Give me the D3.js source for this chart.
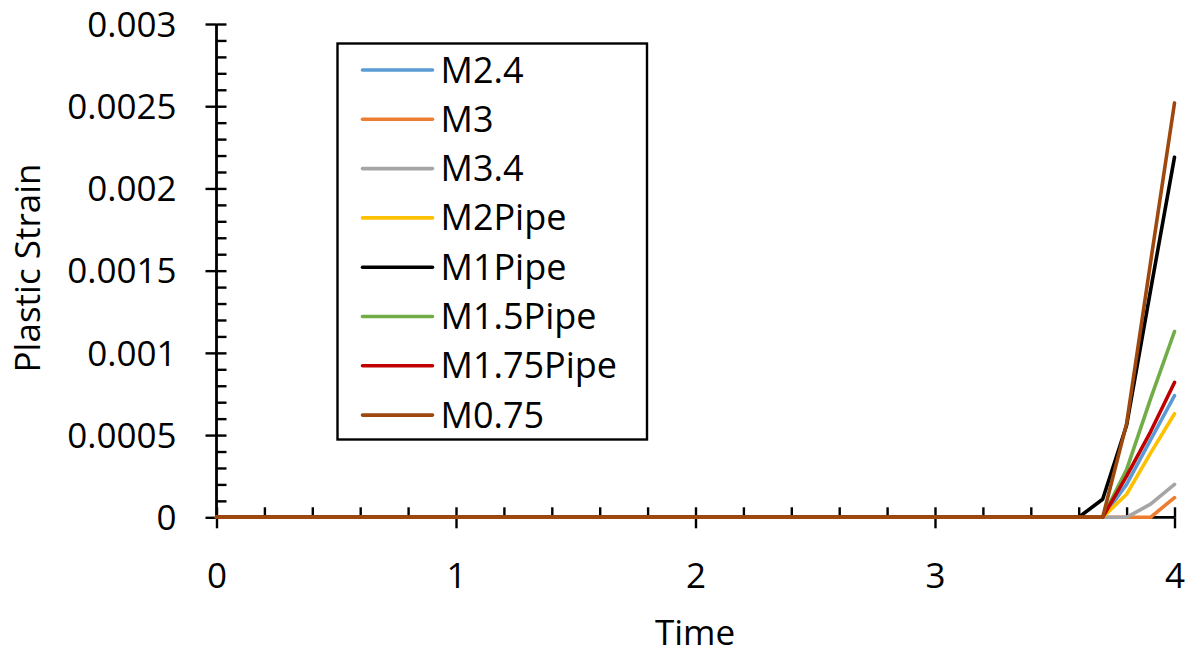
<!DOCTYPE html>
<html>
<head>
<meta charset="utf-8">
<script src="https://cdn.jsdelivr.net/npm/d3@7/dist/d3.min.js"></script>
<style>
  html, body { margin: 0; padding: 0; background: #fff; }
  svg { display: block; font-family: "Open Sans", "Liberation Sans", sans-serif; }
</style>
</head>
<body>
<svg id="chart" width="1191" height="655"></svg>
<script>
// Sample times (strain is zero from t = 0 up to the onset of yielding)
const times = [0, 3.6, 3.7, 3.8, 3.9, 4.0];

// Plastic strain per model at each sample time
const seriesNames = ["M2.4", "M3", "M3.4", "M2Pipe", "M1Pipe", "M1.5Pipe", "M1.75Pipe", "M0.75"];
const m2_4      = [0, 0, 0,       0.00020, 0.00047, 0.00074];
const m3        = [0, 0, 0,       0,       0,       0.00012];
const m3_4      = [0, 0, 0,       0,       0.00008, 0.00020];
const m2Pipe    = [0, 0, 0,       0.00014, 0.00039, 0.00063];
const m1Pipe    = [0, 0, 0.00011, 0.00056, 0.00138, 0.00219];
const m1_5Pipe  = [0, 0, 0,       0.00029, 0.00072, 0.00113];
const m1_75Pipe = [0, 0, 0,       0.00025, 0.00052, 0.00082];
const m0_75     = [0, 0, 0,       0.00057, 0.00155, 0.00252];
const seriesValues = [m2_4, m3, m3_4, m2Pipe, m1Pipe, m1_5Pipe, m1_75Pipe, m0_75];
const seriesColors = ["#5B9BD5", "#ED7D31", "#A5A5A5", "#FFC000", "#000000", "#70AD47", "#C00000", "#9E480E"];

// Axis ticks
const xMajor = [0, 1, 2, 3, 4];
const xTickLabels = ["0", "1", "2", "3", "4"];
const xMinor = [0.2, 0.4, 0.6, 0.8, 1.2, 1.4, 1.6, 1.8, 2.2, 2.4, 2.6, 2.8, 3.2, 3.4, 3.6, 3.8];
const yMajor = [0, 0.0005, 0.001, 0.0015, 0.002, 0.0025, 0.003];
const yTickLabels = ["0", "0.0005", "0.001", "0.0015", "0.002", "0.0025", "0.003"];
const yMinor = [];
[0.0001, 0.0002, 0.0003, 0.0004].forEach(o => yMajor.slice(0, 6).forEach(b => yMinor.push(+(b + o).toFixed(4))));

const svg = d3.select("#chart");
const fontSize = 35;
const lineWidth = 3.6;

const x = d3.scaleLinear().domain([0, 4]).range([216.5, 1174.5]);
const y = d3.scaleLinear().domain([0, 0.003]).range([517.3, 24]);

const line = d3.line()
  .x((d, i) => x(times[i]))
  .y(d => y(d));

// Y axis: major ticks crossing the axis with labels, minor ticks inside
const yLeft = svg.append("g")
  .attr("transform", `translate(${x(0)},0)`)
  .call(d3.axisLeft(y).tickValues(yMajor).tickSize(11).tickPadding(29)
    .tickFormat((d, i) => yTickLabels[i]));
svg.append("g")
  .attr("transform", `translate(${x(0)},0)`)
  .call(d3.axisRight(y).tickValues(yMajor.concat(yMinor)).tickSize(10).tickFormat(""));

// X axis
const xBottom = svg.append("g")
  .attr("transform", `translate(0,${y(0)})`)
  .call(d3.axisBottom(x).tickValues(xMajor).tickSize(11).tickPadding(10)
    .tickFormat((d, i) => xTickLabels[i]));
svg.append("g")
  .attr("transform", `translate(0,${y(0)})`)
  .call(d3.axisTop(x).tickValues(xMajor.concat(xMinor)).tickSize(10).tickFormat(""));

svg.selectAll(".domain").remove();
svg.selectAll(".tick line").attr("stroke", "#000").attr("stroke-width", 2.4);

yLeft.selectAll("text")
  .attr("font-size", fontSize).attr("fill", "#000")
  .attr("font-family", "'Open Sans', sans-serif")
  .attr("dy", null).attr("y", 12.2);
xBottom.selectAll("text")
  .attr("font-size", fontSize).attr("fill", "#000")
  .attr("font-family", "'Open Sans', sans-serif")
  .attr("dy", null).attr("y", 71);

// Axis lines
svg.append("line")
  .attr("x1", x(0)).attr("x2", x(0)).attr("y1", y(0.003)).attr("y2", y(0))
  .attr("stroke", "#000").attr("stroke-width", 2.8);
svg.append("line")
  .attr("x1", x(0)).attr("x2", x(4)).attr("y1", y(0)).attr("y2", y(0))
  .attr("stroke", "#000").attr("stroke-width", 2.8);

// Series lines, drawn over the axes; M0.75 last so it lies on top
svg.append("g").selectAll("path")
  .data(seriesValues)
  .join("path")
  .attr("d", d => line(d))
  .attr("fill", "none")
  .attr("stroke", (d, i) => seriesColors[i])
  .attr("stroke-width", lineWidth)
  .attr("stroke-linejoin", "round")
  .attr("stroke-linecap", "round");

// Axis titles
svg.append("text")
  .attr("x", 695).attr("y", 645)
  .attr("text-anchor", "middle")
  .attr("font-size", fontSize)
  .text("Time");
svg.append("text")
  .attr("transform", "translate(40,268) rotate(-90)")
  .attr("text-anchor", "middle")
  .attr("font-size", fontSize)
  .text("Plastic Strain");

// Legend
const legend = svg.append("g");
legend.append("rect")
  .attr("x", 337.5).attr("y", 43.5).attr("width", 309.5).attr("height", 396)
  .attr("fill", "#fff").attr("stroke", "#000").attr("stroke-width", 2.4);
const rows = legend.selectAll("g.row")
  .data(seriesNames)
  .join("g")
  .attr("class", "row")
  .attr("transform", (d, i) => `translate(0,${70 + i * 49.3})`);
rows.append("line")
  .attr("x1", 362.5).attr("x2", 432.5)
  .attr("stroke", (d, i) => seriesColors[i])
  .attr("stroke-width", lineWidth)
  .attr("stroke-linecap", "round");
rows.append("text")
  .attr("x", 440.5).attr("y", 12.5)
  .attr("font-size", 36)
  .text(d => d);
</script>
</body>
</html>
